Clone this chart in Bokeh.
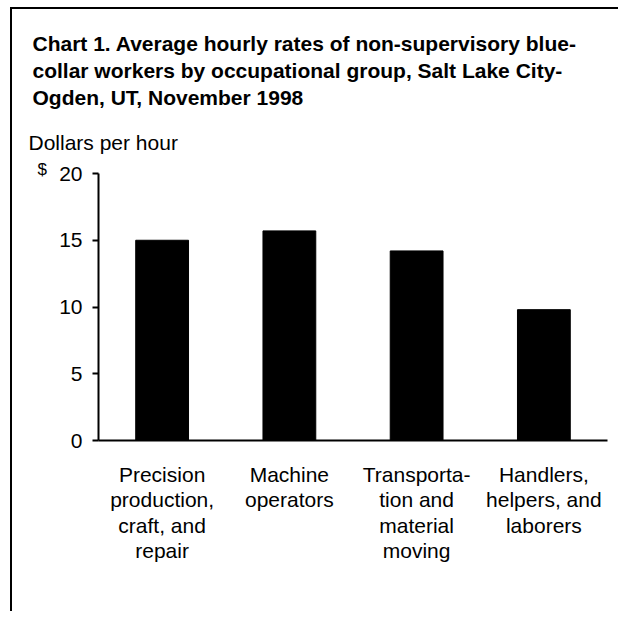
from bokeh.plotting import figure
from bokeh.models import FixedTicker, Range1d, Title, Div
from bokeh.layouts import column, row
from bokeh.embed import file_html
from bokeh.resources import INLINE

# ---- data ----
categories = [
    "Precision\nproduction,\ncraft, and\nrepair",
    "Machine\noperators",
    "Transporta-\ntion and\nmaterial\nmoving",
    "Handlers,\nhelpers, and\nlaborers",
]
values = [15.0, 15.7, 14.2, 9.8]
y_ticks = [0, 5, 10, 15, 20]
title_lines = [
    "Chart 1. Average hourly rates of non-supervisory blue-",
    "collar workers by occupational group, Salt Lake City-",
    "Ogden, UT, November 1998",
]
y_label = "Dollars per hour"
unit_label = "$"

FONT = "Liberation Sans"
FS = "21px"

TOTAL_W, TOTAL_H = 618, 611
MX, MY = 12, 9                     # main figure origin on the page
MW, MH = TOTAL_W - MX, TOTAL_H - MY
FL, FR, FT, FB = 86, 11, 164, 171  # frame margins inside the main figure

# page border (top and left edges) as thin black blocks
top_line = Div(text="", width=TOTAL_W - 10, height=2, margin=(7, 0, 0, 10),
               styles={"background-color": "black"})
left_line = Div(text="", width=2, height=MH, margin=(0, 0, 0, 10),
                styles={"background-color": "black"})

# main chart
positions = [i + 0.5 for i in range(len(categories))]
p = figure(
    x_range=Range1d(0, len(categories)), y_range=Range1d(0, 20),
    width=MW, height=MH, output_backend="svg", toolbar_location=None,
    min_border_left=FL, min_border_right=FR, min_border_top=FT, min_border_bottom=FB,
)
p.outline_line_color = None
p.xgrid.grid_line_color = None
p.ygrid.grid_line_color = None
p.background_fill_color = "white"
p.border_fill_color = "white"

p.vbar(x=positions, top=values, width=0.415, color="black", line_color="black")

ya = p.yaxis[0]
ya.ticker = FixedTicker(ticks=y_ticks)
ya.minor_tick_line_color = None
ya.major_tick_in = 0
ya.major_tick_out = 6
ya.major_tick_line_width = 2
ya.axis_line_width = 2
ya.major_label_standoff = 10
ya.major_label_text_font = FONT
ya.major_label_text_font_size = FS
ya.major_label_text_color = "black"

xa = p.xaxis[0]
xa.ticker = FixedTicker(ticks=positions)
xa.major_label_overrides = {pos: cat for pos, cat in zip(positions, categories)}
xa.major_tick_line_color = None
xa.minor_tick_line_color = None
xa.major_tick_out = 0
xa.major_tick_in = 0
xa.axis_line_width = 2
xa.major_label_standoff = 22
xa.major_label_text_font = FONT
xa.major_label_text_font_size = FS
xa.major_label_text_color = "black"
xa.major_label_text_line_height = 1.11
xa.major_label_orientation = "horizontal"

# texts above the frame (first added = nearest the frame)
p.add_layout(Title(text=unit_label, align="left", offset=-61, standoff=-10,
                   text_font=FONT, text_font_size="17px", text_font_style="normal",
                   text_color="black"), "above")
p.add_layout(Title(text=y_label, align="left", offset=-70, standoff=17.5,
                   text_font=FONT, text_font_size=FS, text_font_style="normal",
                   text_color="black"), "above")
p.add_layout(Title(text="\n".join(title_lines), align="left", offset=-66, standoff=20,
                   text_font=FONT, text_font_size=FS, text_font_style="bold",
                   text_color="black", text_line_height=1.175), "above")

layout = column(top_line, row(left_line, p, spacing=0), spacing=0)
open("out.html", "w").write(file_html(layout, INLINE))
